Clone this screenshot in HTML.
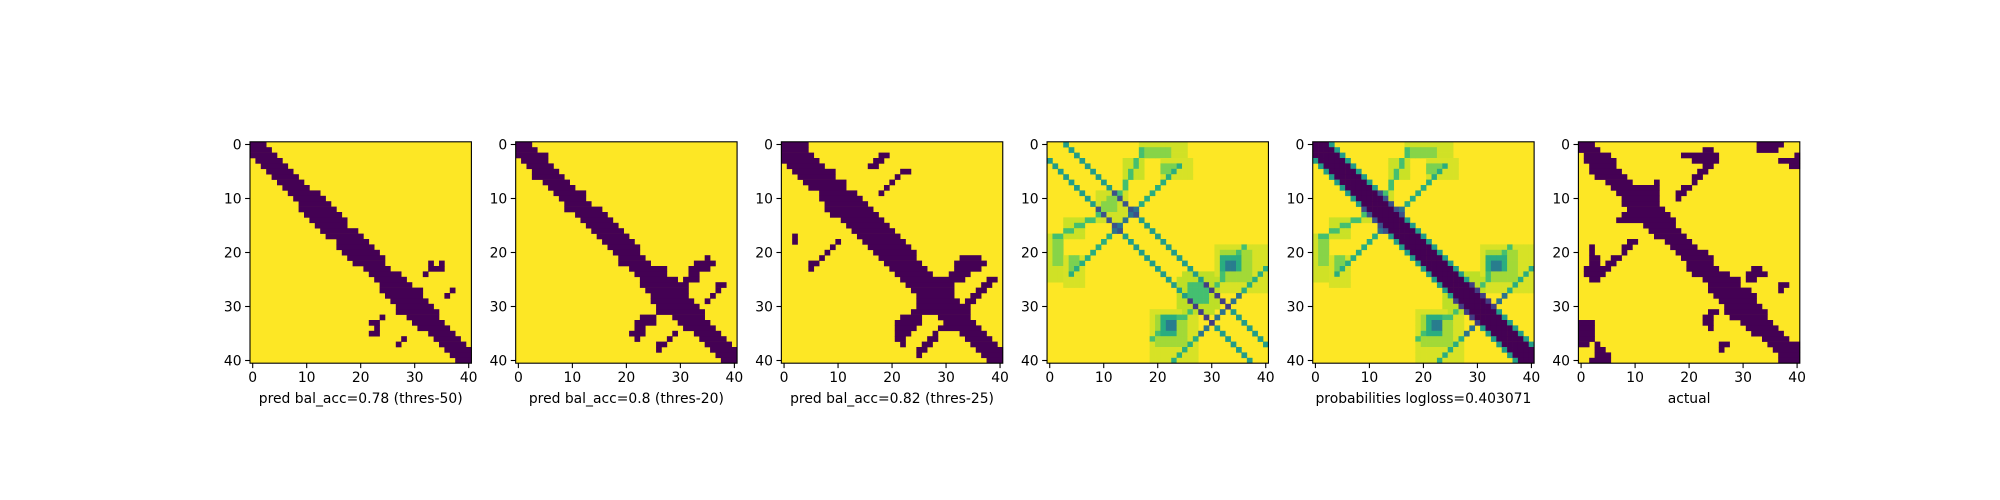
<!DOCTYPE html>
<html><head><meta charset="utf-8"><style>
html,body{margin:0;padding:0;background:#fff;}
svg{display:block;font-family:"DejaVu Sans","Liberation Sans",sans-serif;}
</style></head><body>
<svg id="fig" width="2000" height="500" viewBox="0 0 2000 500"></svg>
<script>
// ---------- data ----------
const xTitles = ["pred bal_acc=0.78 (thres-50)","pred bal_acc=0.8 (thres-20)","pred bal_acc=0.82 (thres-25)","","probabilities logloss=0.403071","actual"];
const tickVals = [0,10,20,30,40];
const N = 41;
// dark runs per row: [row, c0, c1]
const runsP1 = [[0,0,2],[1,0,3],[2,0,4],[3,1,5],[4,2,6],[5,3,7],[6,4,8],[7,5,9],[8,6,10],[9,7,12],[10,8,13],[11,9,14],[12,9,15],[13,10,16],[14,11,17],[15,12,17],[16,13,19],[17,14,20],[18,16,21],[19,16,22],[20,17,23],[21,18,24],[22,19,24],[22,33,33],[22,35,35],[23,21,25],[23,33,35],[24,22,27],[24,32,32],[25,23,28],[26,24,29],[27,24,31],[27,37,37],[28,25,31],[28,36,36],[29,26,32],[30,27,33],[31,27,34],[32,24,24],[32,29,34],[33,22,23],[33,30,35],[34,23,23],[34,31,36],[35,22,23],[35,33,37],[36,28,28],[36,34,38],[37,27,27],[37,35,39],[38,36,40],[39,37,40],[40,38,40]];
const runsP2 = [[0,0,2],[1,0,3],[2,0,5],[3,1,5],[4,2,6],[5,3,7],[6,3,8],[7,5,9],[8,6,10],[9,7,12],[10,8,12],[11,9,13],[12,9,15],[13,11,16],[14,12,17],[15,13,18],[16,14,19],[17,15,20],[18,16,21],[19,17,22],[20,18,22],[21,19,23],[21,35,35],[22,19,24],[22,33,36],[23,21,27],[23,32,35],[24,22,27],[24,32,33],[25,23,29],[25,31,33],[26,23,31],[26,37,38],[27,24,31],[27,37,37],[28,25,31],[28,36,36],[29,25,32],[29,35,35],[30,26,33],[31,26,34],[32,23,25],[32,29,34],[33,22,25],[33,30,35],[34,22,23],[34,31,36],[35,21,23],[35,29,29],[35,33,37],[36,22,22],[36,28,28],[36,34,38],[37,26,27],[37,35,39],[38,26,26],[38,36,40],[39,37,40],[40,38,40]];
const runsP3 = [[0,0,4],[1,0,4],[2,0,5],[2,18,19],[3,0,6],[3,17,18],[4,1,7],[4,16,17],[5,2,9],[5,22,23],[6,3,9],[6,21,21],[7,4,11],[7,20,20],[8,5,11],[8,19,19],[9,7,13],[9,18,18],[10,7,14],[11,8,15],[12,8,16],[13,9,17],[14,11,18],[15,12,19],[16,13,20],[17,2,2],[17,14,21],[18,2,2],[18,10,10],[18,15,22],[19,9,9],[19,16,23],[20,8,8],[20,17,24],[21,7,7],[21,18,24],[21,33,36],[22,5,6],[22,19,25],[22,32,37],[23,5,5],[23,20,26],[23,32,36],[24,21,27],[24,31,34],[25,22,33],[25,38,39],[26,23,31],[26,37,38],[27,24,31],[27,36,37],[28,25,31],[28,35,36],[29,25,32],[29,34,35],[30,25,34],[31,24,34],[32,22,25],[32,29,34],[33,21,25],[33,30,35],[34,21,24],[34,29,36],[35,21,23],[35,28,28],[35,33,37],[36,21,22],[36,27,28],[36,34,38],[37,22,22],[37,26,27],[37,35,39],[38,25,26],[38,36,40],[39,25,25],[39,37,40],[40,38,40]];
const runsP6 = [[0,0,2],[0,33,37],[1,0,3],[1,23,24],[1,33,36],[2,1,5],[2,19,25],[2,40,40],[3,1,6],[3,21,25],[3,37,40],[4,2,6],[4,23,24],[4,39,40],[5,2,7],[5,22,23],[6,3,8],[6,21,22],[7,5,9],[7,14,14],[7,21,21],[8,6,14],[8,19,20],[9,7,14],[9,18,19],[10,8,14],[10,18,18],[11,8,14],[12,9,15],[13,8,16],[14,7,17],[15,12,17],[16,13,18],[17,14,19],[18,9,10],[18,16,20],[19,2,2],[19,8,9],[19,17,21],[20,2,2],[20,8,8],[20,18,23],[21,2,3],[21,6,7],[21,19,24],[22,2,3],[22,5,6],[22,20,24],[23,1,5],[23,20,25],[23,32,33],[24,1,4],[24,21,27],[24,31,34],[25,2,3],[25,23,29],[25,31,32],[26,24,29],[26,37,38],[27,24,31],[27,37,37],[28,25,32],[29,26,32],[30,27,33],[31,24,25],[31,27,34],[32,23,24],[32,28,34],[33,0,2],[33,23,24],[33,30,35],[34,0,2],[34,24,24],[34,31,36],[35,0,2],[35,32,37],[36,0,2],[36,34,38],[37,0,1],[37,3,3],[37,26,27],[37,35,40],[38,3,4],[38,26,26],[38,36,40],[39,3,5],[39,37,40],[40,2,5],[40,37,40]];
// probability features (value 0..1, mirrored across diagonal): rectangles [r0,c0,r1,c1,v]
const probRects = [[0,17,2,25,0.93],[1,18,2,22,0.82],[3,14,6,17,0.92],[3,21,6,26,0.94],[4,21,5,23,0.8],[9,9,14,14,0.93],[11,10,12,12,0.82],[19,31,27,40,0.94],[20,32,25,37,0.86],[21,32,23,35,0.62],[22,33,23,34,0.42],[25,24,30,31,0.9],[26,26,29,29,0.7]];
// line segments [r0,c0,r1,c1,v]
const probLines = [[0,3,37,40,0.55],[9,12,13,16,0.25],[26,29,30,33,0.18],[4,24,24,4,0.62],[12,16,16,12,0.38],[23,40,40,23,0.62],[28,35,35,28,0.38],[1,17,9,13,0.7],[19,36,26,31,0.7]];
// panel 5 band: cells with |col-row| <= bandHalf are dark
const bandHalf = 2;
const bandVal = 0.0;
</script>
<script>
const svg = document.getElementById('fig');
const NS = 'http://www.w3.org/2000/svg';
const L0 = 250, TOP = 141.8, SZ = 221.4, STEP = 265.68;
const cell = SZ / N;
const YEL = '#fde725', PUR = '#440154';
const vstops = ['#440154','#482475','#414487','#355f8d','#2a788e','#21918c','#22a884','#44bf70','#7ad151','#bddf26','#fde725'];
function hex(h){return [parseInt(h.substr(1,2),16),parseInt(h.substr(3,2),16),parseInt(h.substr(5,2),16)];}
function viridis(v){v=Math.max(0,Math.min(1,v));const p=v*10,i=Math.min(9,Math.floor(p)),t=p-i;const a=hex(vstops[i]),b=hex(vstops[i+1]);return 'rgb('+a.map((x,k)=>Math.round(x+(b[k]-x)*t)).join(',')+')';}
function xs(k,c){return L0+k*STEP+c*cell;}
function ys(r){return TOP+r*cell;}
function el(tag,attrs,parent){const e=document.createElementNS(NS,tag);for(const k in attrs)e.setAttribute(k,attrs[k]);(parent||svg).appendChild(e);return e;}
function drawCell(g,k,r,c,fill){
  const e=el('rect',{x:xs(k,c).toFixed(2),y:ys(r).toFixed(2),width:(cell+0.3).toFixed(2),height:(cell+0.3).toFixed(2),fill:fill},g);
  
  
}
function drawRuns(g,k,runs){
  runs.forEach(([r,c0,c1])=>{
    const e=el('rect',{x:xs(k,c0).toFixed(2),y:ys(r).toFixed(2),width:((c1-c0+1)*cell+0.3).toFixed(2),height:(cell+0.3).toFixed(2),fill:PUR},g);
    
    
  });
}
function probGrid(withBand){
  const M=[];for(let r=0;r<N;r++){M.push(new Array(N).fill(1));}
  function set(r,c,v){if(r>=0&&r<N&&c>=0&&c<N){M[r][c]=Math.min(M[r][c],v);M[c][r]=Math.min(M[c][r],v);}}
  probRects.forEach(([r0,c0,r1,c1,v])=>{for(let r=r0;r<=r1;r++)for(let c=c0;c<=c1;c++)set(r,c,v);});
  probLines.forEach(([r0,c0,r1,c1,v])=>{const n=Math.max(Math.abs(r1-r0),Math.abs(c1-c0));for(let i=0;i<=n;i++){set(Math.round(r0+(r1-r0)*i/n),Math.round(c0+(c1-c0)*i/n),v);}});
  if(withBand){for(let r=0;r<N;r++)for(let c=0;c<N;c++)if(Math.abs(c-r)<=bandHalf)M[r][c]=bandVal;}
  return M;
}
function drawPanel(k){
  const g=el('g',{});
  
  
  const bg=el('rect',{x:xs(k,0),y:TOP,width:SZ,height:SZ,fill:YEL},g);
  
  
  if(k===0)drawRuns(g,k,runsP1);
  if(k===1)drawRuns(g,k,runsP2);
  if(k===2)drawRuns(g,k,runsP3);
  if(k===5)drawRuns(g,k,runsP6);
  if(k===3||k===4){const M=probGrid(k===4);for(let r=0;r<N;r++)for(let c=0;c<N;c++)if(M[r][c]<0.99)drawCell(g,k,r,c,viridis(M[r][c]));}
  const fr=el('rect',{x:xs(k,0),y:TOP,width:SZ,height:SZ,fill:'none',stroke:'#000','stroke-width':1.1},g);
  
  
  tickVals.forEach(v=>{
    const cx=xs(k,v+0.5), cy=ys(v+0.5);
    const t1=el('line',{x1:cx,y1:TOP+SZ,x2:cx,y2:TOP+SZ+4.9,stroke:'#000','stroke-width':1.1},g);
    
    
    const l1=el('text',{x:cx,y:TOP+SZ+19,'font-size':13.9,'text-anchor':'middle',fill:'#000'},g);
    l1.textContent=v;
    
    
    const t2=el('line',{x1:xs(k,0),y1:cy,x2:xs(k,0)-4.9,y2:cy,stroke:'#000','stroke-width':1.1},g);
    
    
    const l2=el('text',{x:xs(k,0)-8.4,y:cy+5,'font-size':13.9,'text-anchor':'end',fill:'#000'},g);
    l2.textContent=v;
    
    
  });
  if(xTitles[k]){
    const xt=el('text',{x:xs(k,0)+SZ/2,y:TOP+SZ+40,'font-size':13.9,'text-anchor':'middle',fill:'#000'},g);
    xt.textContent=xTitles[k];
    
    
  }
}
for(let k=0;k<6;k++)drawPanel(k);
</script>
</body></html>
